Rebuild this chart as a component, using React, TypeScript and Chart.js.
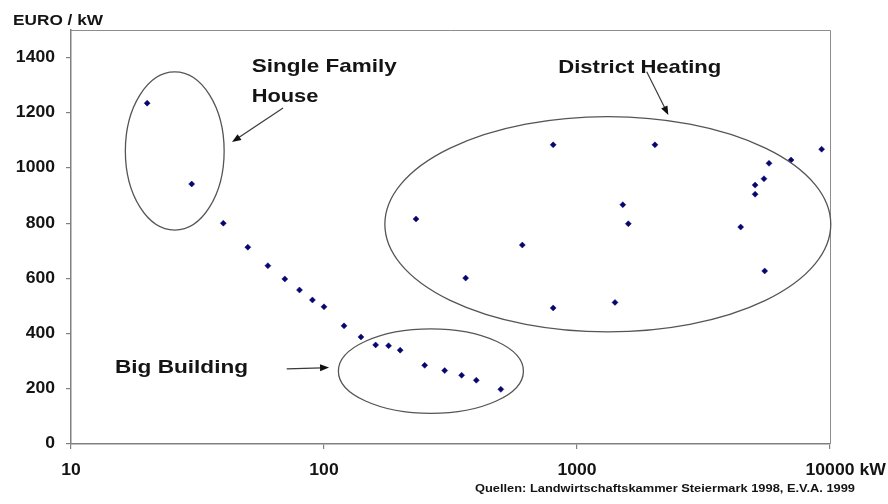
import React, { useEffect, useRef } from "react";
import { Chart, registerables } from "chart.js";

Chart.register(...registerables);

// ---- data ----
const capacityKW = [
  20, 30, 40, 50, 60, 70, 80, 90, 100, 120, 140, 160, 180, 200, 250, 300, 350, 400, 500,
  231, 363, 608, 805, 805, 1413, 1517, 1595, 2033, 4436, 5058, 5058, 5483, 5741, 7015, 9268, 5520,
];
const costEuroPerKW = [
  1235, 942, 800, 713, 646, 598, 558, 522, 497, 428, 388, 359, 356, 340, 285, 266, 249, 231, 198,
  815, 601, 721, 1084, 493, 513, 867, 798, 1084, 786, 938, 905, 961, 1017, 1029, 1068, 627,
];
const xTickValues = [10, 100, 1000, 10000];
const xTickLabels = ["10", "100", "1000", "10000"];
const yTickValues = [0, 200, 400, 600, 800, 1000, 1200, 1400];
const yTickLabels = ["0", "200", "400", "600", "800", "1000", "1200", "1400"];
const yAxisTitle = "EURO / kW";
const xUnit = "kW";
const sourceText = "Quellen: Landwirtschaftskammer Steiermark 1998, E.V.A. 1999";

// group outlines (bounding boxes in data units) and their labels
const groupNames = ["Single Family\nHouse", "District Heating", "Big Building"];
const groupXMin = [16.4, 174, 114];
const groupXMax = [40.3, 10070, 614];
const groupYMin = [775, 406, 111];
const groupYMax = [1348, 1186, 417];
// arrows (from -> to, data units)
const arrowFromX = [68.9, 1886, 71.2];
const arrowFromY = [1217, 1349, 272];
const arrowToX = [43.3, 2296, 104.7];
const arrowToY = [1094, 1192, 277];

const FONT = '"Liberation Sans", Arial, Helvetica, sans-serif';

function drawText(
  ctx: CanvasRenderingContext2D,
  text: string,
  x: number,
  y: number,
  size: number,
  align: "left" | "right" | "center",
  targetWidth: number | null,
  stretch = 1.1,
  baseline: CanvasTextBaseline = "middle"
) {
  ctx.save();
  ctx.font = `bold ${size}px ${FONT}`;
  ctx.textBaseline = baseline;
  ctx.textAlign = "left";
  const raw = ctx.measureText(text).width;
  const sx = targetWidth ? targetWidth / raw : stretch;
  const w = raw * sx;
  const left = align === "left" ? x : align === "right" ? x - w : x - w / 2;
  ctx.translate(left, y);
  ctx.scale(sx, 1);
  ctx.fillStyle = "#141414";
  ctx.fillText(text, 0, 0);
  ctx.restore();
  return w;
}

const decorPlugin = {
  id: "decor",
  afterDraw(chart: any) {
    const ctx: CanvasRenderingContext2D = chart.ctx;
    const { left, top, right, bottom } = chart.chartArea;
    const xs = chart.scales.x;
    const ys = chart.scales.y;

    // frame top/right
    ctx.save();
    ctx.strokeStyle = "#8c8c8c";
    ctx.lineWidth = 1;
    ctx.beginPath();
    ctx.moveTo(left, top + 0.5);
    ctx.lineTo(right + 0.5, top + 0.5);
    ctx.lineTo(right + 0.5, bottom);
    ctx.stroke();
    ctx.restore();

    // y tick labels
    yTickValues.forEach((v, i) => {
      drawText(ctx, yTickLabels[i], left - 16, ys.getPixelForValue(v), 16, "right", null, 1.1);
    });
    // x tick labels
    xTickValues.forEach((v, i) => {
      const px = xs.getPixelForValue(v);
      const w = drawText(ctx, xTickLabels[i], px, bottom + 27, 16, "center", null, 1.1);
      if (i === xTickValues.length - 1) {
        drawText(ctx, xUnit, px + w / 2 + 5, bottom + 27, 16, "left", null, 1.1);
      }
    });
    // axis title
    drawText(ctx, yAxisTitle, 13, 25, 14, "left", 90, 1.1, "alphabetic");
    // source
    drawText(ctx, sourceText, 475, 492, 10.5, "left", 380, 1.1, "alphabetic");

    // ellipses
    ctx.save();
    ctx.strokeStyle = "#555555";
    ctx.lineWidth = 1.3;
    for (let i = 0; i < groupNames.length; i++) {
      const x1 = xs.getPixelForValue(groupXMin[i]);
      const x2 = xs.getPixelForValue(groupXMax[i]);
      const y1 = ys.getPixelForValue(groupYMax[i]);
      const y2 = ys.getPixelForValue(groupYMin[i]);
      ctx.beginPath();
      ctx.ellipse((x1 + x2) / 2, (y1 + y2) / 2, (x2 - x1) / 2, (y2 - y1) / 2, 0, 0, Math.PI * 2);
      ctx.stroke();
    }
    ctx.restore();

    // arrows
    for (let i = 0; i < arrowFromX.length; i++) {
      const fx = xs.getPixelForValue(arrowFromX[i]);
      const fy = ys.getPixelForValue(arrowFromY[i]);
      const tx = xs.getPixelForValue(arrowToX[i]);
      const ty = ys.getPixelForValue(arrowToY[i]);
      const ang = Math.atan2(ty - fy, tx - fx);
      const hl = 9;
      const hw = 3.5;
      ctx.save();
      ctx.strokeStyle = "#3a3a3a";
      ctx.lineWidth = 1.2;
      ctx.beginPath();
      ctx.moveTo(fx, fy);
      ctx.lineTo(tx - Math.cos(ang) * hl * 0.8, ty - Math.sin(ang) * hl * 0.8);
      ctx.stroke();
      ctx.fillStyle = "#111111";
      ctx.beginPath();
      ctx.moveTo(tx, ty);
      ctx.lineTo(tx - Math.cos(ang) * hl - Math.sin(ang) * hw, ty - Math.sin(ang) * hl + Math.cos(ang) * hw);
      ctx.lineTo(tx - Math.cos(ang) * hl + Math.sin(ang) * hw, ty - Math.sin(ang) * hl - Math.cos(ang) * hw);
      ctx.closePath();
      ctx.fill();
      ctx.restore();
    }

    // group labels
    const sf = groupNames[0].split("\n");
    drawText(ctx, sf[0], 251.7, 72, 19, "left", 145, 1.15, "alphabetic");
    drawText(ctx, sf[1], 251.7, 101.5, 19, "left", 66.7, 1.15, "alphabetic");
    drawText(ctx, groupNames[1], 558.3, 73, 19, "left", 163, 1.15, "alphabetic");
    drawText(ctx, groupNames[2], 115, 373.3, 19, "left", 133, 1.15, "alphabetic");
  },
};

export default function App() {
  const ref = useRef<HTMLCanvasElement | null>(null);
  useEffect(() => {
    document.body.style.margin = "0";
    const canvas = ref.current;
    if (!canvas) return;
    const points = capacityKW.map((x, i) => ({ x, y: costEuroPerKW[i] }));
    const chart = new Chart(canvas, {
      type: "scatter",
      data: {
        datasets: [
          {
            data: points,
            pointStyle: "rectRot",
            radius: 3,
            backgroundColor: "#06066e",
            borderColor: "#06066e",
            borderWidth: 0.5,
          },
        ],
      },
      options: {
        animation: false,
        responsive: false,
        maintainAspectRatio: false,
        layout: { padding: { left: 0, top: 30, right: 58, bottom: 0 } },
        plugins: { legend: { display: false }, tooltip: { enabled: false } },
        scales: {
          x: {
            type: "logarithmic",
            min: 10,
            max: 10000,
            afterBuildTicks: (s: any) => {
              s.ticks = xTickValues.map((v) => ({ value: v }));
            },
            afterFit: (s: any) => {
              s.height = 60;
            },
            ticks: { display: false },
            grid: { drawOnChartArea: false, drawTicks: true, tickLength: 5, color: "#808080", lineWidth: 1.2 },
            border: { display: true, color: "#808080", width: 1.5 },
          },
          y: {
            type: "linear",
            min: 0,
            max: 1500,
            afterBuildTicks: (s: any) => {
              s.ticks = yTickValues.map((v) => ({ value: v }));
            },
            afterFit: (s: any) => {
              s.width = 71;
            },
            ticks: { display: false },
            grid: { drawOnChartArea: false, drawTicks: true, tickLength: 5, color: "#808080", lineWidth: 1.2 },
            border: { display: true, color: "#808080", width: 1.5 },
          },
        },
      },
      plugins: [decorPlugin],
    });
    return () => chart.destroy();
  }, []);
  return (
    <div style={{ width: 888, height: 504, background: "#ffffff" }}>
      <canvas ref={ref} width={888} height={504} style={{ display: "block" }} />
    </div>
  );
}
